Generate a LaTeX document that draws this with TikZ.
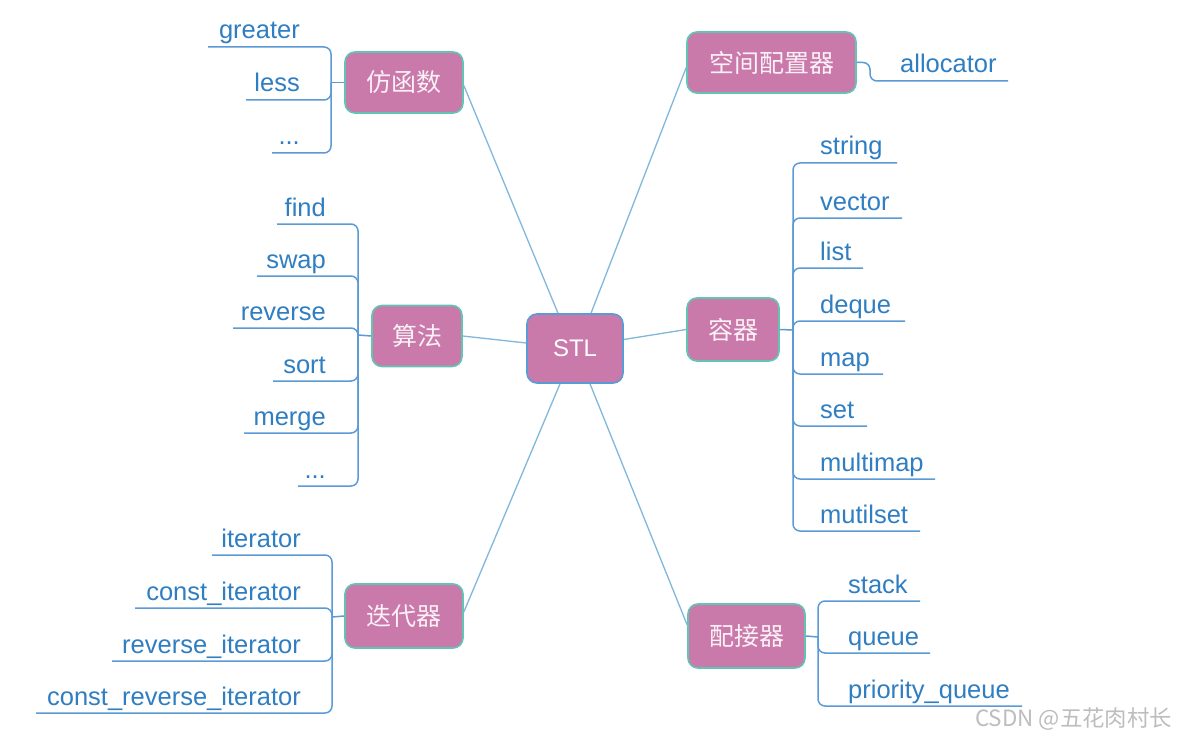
\documentclass[tikz,border=0pt]{standalone}
\usepackage{fontspec}
\setmainfont{Liberation Sans}
\newfontfamily\cjk{Noto Sans CJK SC}
\usetikzlibrary{calc}
\definecolor{boxfill}{HTML}{C97AAB}
\definecolor{boxline}{HTML}{62C4B2}
\definecolor{stlline}{HTML}{5B9BD5}
\definecolor{mainline}{HTML}{7FB8DC}
\definecolor{branchline}{HTML}{5B9BD5}
\definecolor{leaftext}{HTML}{2F7EC2}
\definecolor{boxtext}{HTML}{FAF0F6}
\definecolor{wm}{HTML}{BDBDBD}
\begin{document}
\begin{tikzpicture}[x=1pt,y=-1pt,
 topic/.style={draw=boxline, line width=1.6pt, fill=boxfill, rounded corners=10pt, text=boxtext, font=\cjk\fontsize{25}{28}\selectfont, inner sep=0pt, minimum height=61pt},
 root/.style={topic, draw=stlline, text=white, font=\fontsize{24}{28}\selectfont, minimum width=96pt, minimum height=69pt},
 leafL/.style={anchor=base east, text=leaftext, font=\fontsize{25.5}{30}\selectfont, inner sep=0pt},
 leafR/.style={leafL, anchor=base west},
 trunk/.style={draw=mainline, line width=1.3pt},
 branch/.style={draw=branchline, line width=1.5pt, rounded corners=7pt},
]
\fill[white] (0,0) rectangle (1177,738);
\useasboundingbox (0,0) rectangle (1177,738);

% topics
\node[root] (stl) at (575,348.5) {STL};
\node[topic, minimum width=118pt] (fhs) at (404,82.5) {仿函数};
\node[topic, minimum width=169pt] (kj) at (771.5,62.5) {空间配置器};
\node[topic, minimum width=90pt] (sf) at (417,336) {算法};
\node[topic, minimum width=92pt, minimum height=63pt] (rq) at (733,329.5) {容器};
\node[topic, minimum width=118pt, minimum height=64pt] (ddq) at (404,616) {迭代器};
\node[topic, minimum width=117pt, minimum height=64pt] (pjq) at (746.5,636) {配接器};

% trunk connectors
\draw[trunk] ($(fhs.east)+(0,3)$) -- ($(stl.north)+(-17,0)$);
\draw[trunk] ($(kj.west)+(0,5)$) -- ($(stl.north)+(16,0)$);
\draw[trunk] (sf.east) -- ($(stl.west)+(0,-5.5)$);
\draw[trunk] ($(stl.east)+(0,-9)$) -- (rq.west);
\draw[trunk] ($(ddq.east)+(0,-4)$) -- ($(stl.south)+(-15,0)$);
\draw[trunk] ($(stl.south)+(15,0)$) -- ($(pjq.west)+(0,-11)$);

% 仿函数 branch
\coordinate (fhsH) at (331,82.5);
\draw[branch] (fhs.west) -- (fhsH);
\coordinate (fhs1) at (208,47);
\coordinate (fhs2) at (246,100);
\coordinate (fhs3) at (272,153);
\draw[branch] (fhsH) |- (fhs1);
\draw[branch] (fhsH) |- (fhs2);
\draw[branch] (fhsH) |- (fhs3);
\node[leafL] (fhs1t) at (300,39) {greater};
\node[leafL] (fhs2t) at (300,92) {less};
\node[leafL] (fhs3t) at (300,145) {...};

% 空间配置器 branch
\coordinate (kjH) at (870,62.5);
\coordinate (kj1) at (1008,81);
\draw[branch] (kj.east) -- (kjH) |- (kj1);
\node[leafR] (kj1t) at (900,73) {allocator};

% 算法 branch
\coordinate (sfH) at (358,335);
\draw[branch] (sf.west) -- (sfH);
\foreach \y/\xl/\t [count=\i] in {224/277/find, 276/257/swap, 328/233/reverse, 381/273/sort, 433/244/merge}{
  \coordinate (sf\i) at (\xl,\y);
  \draw[branch] (sfH) |- (sf\i);
  \node[leafL] (sf\i t) at (326,\y-8) {\t};
}
\coordinate (sf6) at (298,486);
\draw[branch] (sfH) |- (sf6);
\node[leafL] (sf6t) at (326,478) {...};

% 迭代器 branch
\coordinate (ddqH) at (332,617);
\draw[branch] (ddq.west) -- (ddqH);
\foreach \y/\xl/\t [count=\i] in {555/212/iterator, 608/135/const\_iterator, 661/112/reverse\_iterator, 713/36/const\_reverse\_iterator}{
  \coordinate (ddq\i) at (\xl,\y);
  \draw[branch] (ddqH) |- (ddq\i);
  \node[leafL] (ddq\i t) at (301,\y-8) {\t};
}

% 容器 branch
\coordinate (rqH) at (793,330);
\draw[branch] (rq.east) -- (rqH);
\foreach \y/\xr/\t [count=\i] in {163/897/string, 218/902/vector, 268/863/list, 321/905/deque, 374/883/map, 426/867/set, 479/935/multimap, 531/920/mutilset}{
  \coordinate (rq\i) at (\xr,\y);
  \draw[branch] (rqH) |- (rq\i);
  \node[leafR] (rq\i t) at (820,\y-8) {\t};
}

% 配接器 branch
\coordinate (pjqH) at (818,637);
\draw[branch] (pjq.east) -- (pjqH);
\foreach \y/\xr/\t [count=\i] in {601/920/stack, 653/930/queue, 706/1022/priority\_queue}{
  \coordinate (pjq\i) at (\xr,\y);
  \draw[branch] (pjqH) |- (pjq\i);
  \node[leafR] (pjq\i t) at (848,\y-8) {\t};
}

% watermark
\node[anchor=base west, text=wm, font=\cjk\fontsize{22.4}{26}\selectfont, inner sep=0pt] (wmk) at (975,726) {CSDN @五花肉村长};
\end{tikzpicture}
\end{document}
